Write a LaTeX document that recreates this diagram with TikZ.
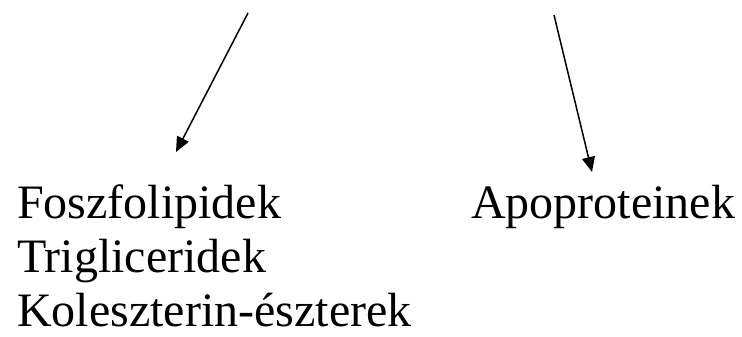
\documentclass[tikz,border=0pt]{standalone}
\usepackage{fontspec}
\setmainfont{Liberation Serif}
\usetikzlibrary{arrows.meta}
\begin{document}
\begin{tikzpicture}[x=1pt,y=-1pt,
  label/.style={anchor=base west,inner sep=0pt,font=\fontsize{48}{56}\selectfont},
  link/.style={line width=1.5pt,-{Triangle[length=15pt,width=13pt]}}]
\useasboundingbox (0,0) rectangle (742,337);
% lipid components
\node[label] (fosz) at (17,218) {Foszfolipidek};
\node[label] (trig) at (17,272) {Trigliceridek};
\node[label] (kol)  at (17,326) {Koleszterin-észterek};
% protein component
\node[label] (apo)  at (471,218) {Apoproteinek};
% arrows coming down from above
\coordinate (lstart) at (248,13);
\coordinate (ltip)   at (176,152);
\coordinate (rstart) at (554,15);
\coordinate (rtip)   at (592,172);
\draw[link] (lstart) -- (ltip);
\draw[link] (rstart) -- (rtip);
\end{tikzpicture}
\end{document}
